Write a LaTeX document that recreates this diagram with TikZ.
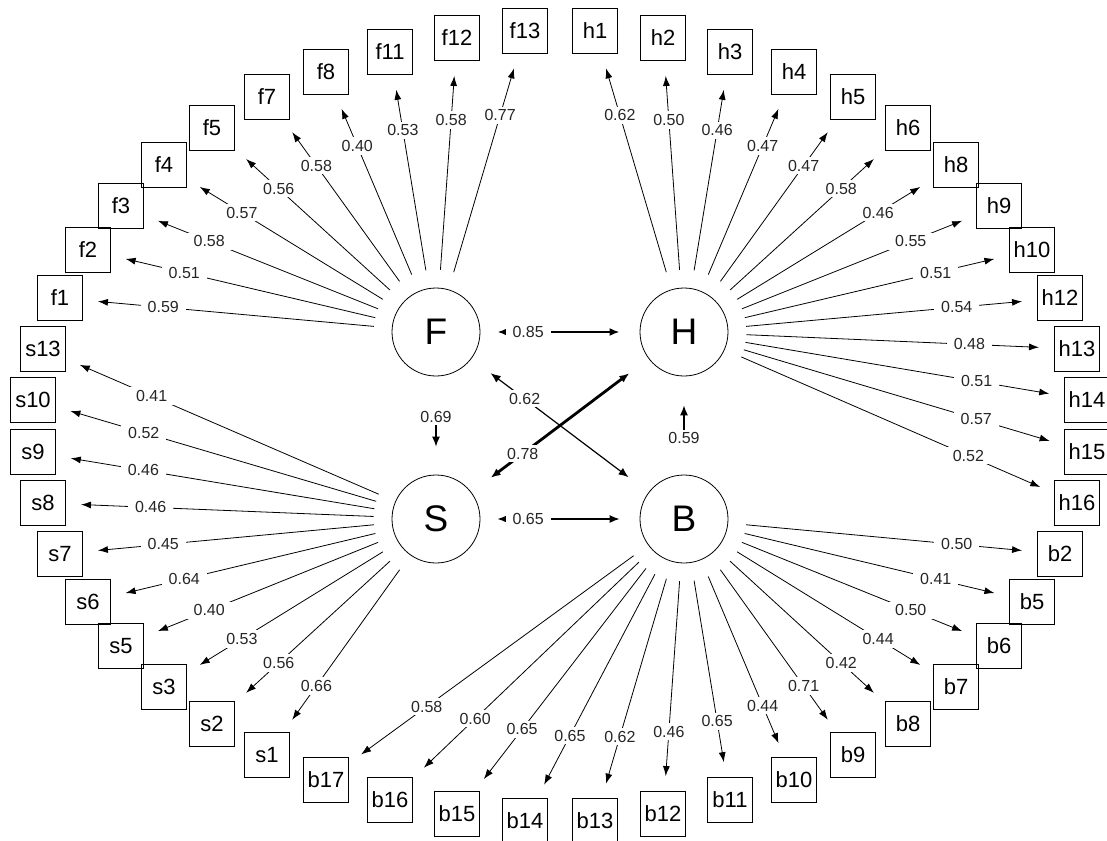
\documentclass[tikz,border=0pt]{standalone}
\usepackage{fontspec}
\setmainfont{Liberation Sans}
\usetikzlibrary{arrows.meta}
\begin{document}
\begin{tikzpicture}[x=1pt,y=-1pt,
  lat/.style={circle,draw,line width=0.8pt,minimum size=88pt,inner sep=0pt,
    font=\fontsize{37}{37}\selectfont},
  obs/.style={rectangle,draw,line width=1pt,minimum width=45pt,minimum height=45pt,
    inner sep=0pt,font=\fontsize{22}{22}\selectfont},
  load/.style={line width=0.8pt,-{Latex[length=10pt,width=7pt]},
    shorten <=18pt,shorten >=15pt},
  coef/.style={fill=white,inner xsep=7pt,inner ysep=3pt,
    font=\fontsize{16}{16}\selectfont,text=black!85},
  bihead/.style={{Latex[length=10pt,width=8pt]}-{Latex[length=10pt,width=8pt]}},
  onehead/.style={-{Latex[length=10pt,width=8pt]}},
]
\useasboundingbox (0,0) rectangle (1107,840);
\clip (0,0) rectangle (1107,840);

% latent factors
\node[lat] (F) at (436,332) {F};
\node[lat] (H) at (684,332) {H};
\node[lat] (S) at (436,519) {S};
\node[lat] (B) at (684,519) {B};

% indicator boxes, on an ellipse round the factors
\foreach \n/\x/\y in {
  f1/60/298, f2/88/250, f3/121/206, f4/164/165, f5/212/128, f7/267/97,
  f8/326/72, f11/390/52, f12/457/38, f13/525/31,
  h1/595/31, h2/663/38, h3/730/52, h4/794/72, h5/853/97, h6/908/128,
  h8/956/165, h9/999/206, h10/1032/250, h12/1060/298, h13/1077/349,
  h14/1087/400, h15/1087/452, h16/1077/503,
  s13/43/349, s10/33/400, s9/33/452, s8/43/503, s7/60/554, s6/88/602,
  s5/121/646, s3/164/687, s2/212/724, s1/267/755,
  b2/1060/554, b5/1032/602, b6/999/646, b7/956/687, b8/908/724,
  b9/853/755, b10/794/780, b11/730/800, b12/663/814, b13/595/821,
  b14/525/821, b15/457/814, b16/390/800, b17/326/780}
  \node[obs] (\n) at (\x,\y) {\n};

% factor loadings
\foreach \l/\n/\v in {
  F/f1/0.59, F/f2/0.51, F/f3/0.58, F/f4/0.57, F/f5/0.56, F/f7/0.58,
  F/f8/0.40, F/f11/0.53, F/f12/0.58, F/f13/0.77,
  H/h1/0.62, H/h2/0.50, H/h3/0.46, H/h4/0.47, H/h5/0.47, H/h6/0.58,
  H/h8/0.46, H/h9/0.55, H/h10/0.51, H/h12/0.54, H/h13/0.48, H/h14/0.51,
  H/h15/0.57, H/h16/0.52,
  S/s13/0.41, S/s10/0.52, S/s9/0.46, S/s8/0.46, S/s7/0.45, S/s6/0.64,
  S/s5/0.40, S/s3/0.53, S/s2/0.56, S/s1/0.66,
  B/b2/0.50, B/b5/0.41, B/b6/0.50, B/b7/0.44, B/b8/0.42, B/b9/0.71,
  B/b10/0.44, B/b11/0.65, B/b12/0.46, B/b13/0.62, B/b14/0.65, B/b15/0.65,
  B/b16/0.60, B/b17/0.58}
  \draw[load] (\l) -- node[coef,pos=0.74] {\v} (\n);

% relations between the factors
\draw[line width=2.5pt,bihead,shorten <=17pt,shorten >=20pt]
  (F) -- node[coef,pos=0.30] {0.85} (H);
\draw[line width=1.3pt,bihead,shorten <=17pt,shorten >=20pt]
  (S) -- node[coef,pos=0.30] {0.65} (B);
\draw[line width=1.2pt,bihead,shorten <=24pt,shorten >=25pt]
  (F) -- node[coef,pos=0.30] {0.62} (B);
\draw[line width=2.8pt,bihead,shorten <=24pt,shorten >=24pt]
  (S) -- node[coef,pos=0.29] {0.78} (H);
\draw[line width=1.2pt,onehead,shorten <=35pt,shorten >=28pt]
  (F) -- node[coef,pos=0.41] {0.69} (S);
\draw[line width=1.2pt,onehead,shorten <=35pt,shorten >=29pt]
  (B) -- node[coef,pos=0.37] {0.59} (H);
\end{tikzpicture}
\end{document}
